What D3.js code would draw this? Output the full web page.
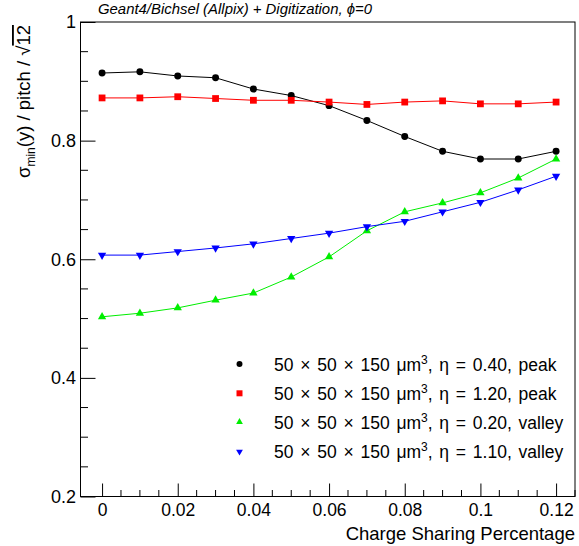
<!DOCTYPE html>
<html><head><meta charset="utf-8">
<script src="https://cdn.jsdelivr.net/npm/d3@7"></script>
<style>
body{margin:0;background:#fff;}
svg{display:block;font-family:"Liberation Sans",Arial,Helvetica,sans-serif;}
</style></head>
<body><svg id="c" width="579" height="546"></svg>
<script>
const chargeSharing = [0,0.01,0.02,0.03,0.04,0.05,0.06,0.07,0.08,0.09,0.10,0.11,0.12];
const eta040peak   = [0.914,0.916,0.909,0.906,0.887,0.876,0.859,0.834,0.807,0.782,0.769,0.769,0.782];
const eta120peak   = [0.872,0.872,0.874,0.871,0.868,0.868,0.865,0.861,0.865,0.867,0.862,0.862,0.865];
const eta020valley = [0.503,0.509,0.518,0.531,0.543,0.570,0.604,0.648,0.680,0.695,0.712,0.737,0.769];
const eta110valley = [0.607,0.607,0.613,0.619,0.626,0.635,0.644,0.655,0.664,0.680,0.696,0.717,0.740];
const seriesNames = ["η = 0.40, peak","η = 1.20, peak","η = 0.20, valley","η = 1.10, valley"];
const yTicks = [0.2,0.4,0.6,0.8,1];
const xTicks = [0,0.02,0.04,0.06,0.08,0.1,0.12];

const series = [
  {name:seriesNames[0], values:eta040peak,   color:"#000000", sym:d3.symbolCircle,   size:38, lsize:28},
  {name:seriesNames[1], values:eta120peak,   color:"#ff0000", sym:d3.symbolSquare,   size:46, lsize:36},
  {name:seriesNames[2], values:eta020valley, color:"#00ee00", sym:d3.symbolTriangle, size:30, lsize:20, rot:0},
  {name:seriesNames[3], values:eta110valley, color:"#0000ff", sym:d3.symbolTriangle, size:30, lsize:20, rot:180}
];

const svg = d3.select("#c");
const L=80.5, R=575, T=22, B=496.5;
const x = d3.scaleLinear().domain([-0.0057,0.125]).range([L,R]);
const y = d3.scaleLinear().domain([0.2,1.0]).range([B,T]);

// frame
svg.append("rect").attr("x",L).attr("y",T).attr("width",R-L).attr("height",B-T)
  .attr("fill","none").attr("stroke","#000").attr("stroke-width",1);

// minor ticks
const yMinor = d3.range(0.25,1.0,0.05).filter(v=>Math.abs(v*5-Math.round(v*5))>1e-6);
svg.append("g").selectAll("line").data(yMinor).join("line")
  .attr("x1",L).attr("x2",L+7.5).attr("y1",d=>y(d)).attr("y2",d=>y(d))
  .attr("stroke","#000");
const xMinor = d3.range(0.005,0.1251,0.005).filter(v=>Math.abs(v*50-Math.round(v*50))>1e-6);
svg.append("g").selectAll("line").data(xMinor).join("line")
  .attr("x1",d=>x(d)).attr("x2",d=>x(d)).attr("y1",B).attr("y2",B-6.5)
  .attr("stroke","#000");

// axes
const ay = svg.append("g").attr("transform",`translate(${L},0)`)
  .call(d3.axisLeft(y).tickValues(yTicks).tickFormat(d3.format("~g")).tickSizeInner(-15).tickSizeOuter(0).tickPadding(4.5));
const ax = svg.append("g").attr("transform",`translate(0,${B})`)
  .call(d3.axisBottom(x).tickValues(xTicks).tickFormat(d3.format("~g")).tickSizeInner(-13).tickSizeOuter(0).tickPadding(7));
[ay,ax].forEach(g=>{
  g.select(".domain").remove();
  g.selectAll("text").attr("font-size",18).attr("fill","#000").attr("font-family","Liberation Sans, Arial, sans-serif");
  g.selectAll("line").attr("stroke","#000");
});
ax.selectAll("text").attr("font-size",17.5);

// lines and markers
const line = d3.line().x((d,i)=>x(chargeSharing[i])).y(d=>y(d));
series.forEach(s=>{
  svg.append("path").attr("d",line(s.values)).attr("fill","none")
    .attr("stroke",s.color).attr("stroke-width",1);
  svg.append("g").selectAll("path").data(s.values).join("path")
    .attr("d",d3.symbol(s.sym,s.size))
    .attr("transform",(d,i)=>`translate(${x(chargeSharing[i])},${y(d)}) rotate(${s.rot||0})`)
    .attr("fill",s.color);
});

// legend
const legY = [364,393.3,422,451.7];
series.forEach((s,i)=>{
  svg.append("path").attr("d",d3.symbol(s.sym,s.lsize))
    .attr("transform",`translate(239.5,${legY[i]}) rotate(${s.rot||0})`).attr("fill",s.color);
  const t = svg.append("text").attr("x",274).attr("y",legY[i]+6.5).attr("font-size",17.5)
    .attr("word-spacing",1.9).attr("fill","#000");
  t.append("tspan").text("50 × 50 × 150 μm");
  t.append("tspan").attr("dy",-7).attr("font-size",12).text("3");
  t.append("tspan").attr("dy",7).text(", "+s.name);
});

// title
svg.append("text").attr("x",98).attr("y",14).attr("font-size",14.9).attr("font-style","italic")
  .attr("fill","#000").text("Geant4/Bichsel (Allpix) + Digitization, ϕ=0");

// x axis title
svg.append("text").attr("x",575).attr("y",540).attr("text-anchor","end").attr("font-size",18.5)
  .attr("fill","#000").text("Charge Sharing Percentage");

// y axis title
const yt = svg.append("text").attr("transform","translate(30,178) rotate(-90)")
  .attr("font-size",18.5).attr("fill","#000");
yt.append("tspan").text("σ");
yt.append("tspan").attr("dy",5).attr("font-size",12).text("min");
yt.append("tspan").attr("dy",-5).text("(y) / pitch / √");
yt.append("tspan").attr("text-decoration","overline").text("12");
</script></body></html>
